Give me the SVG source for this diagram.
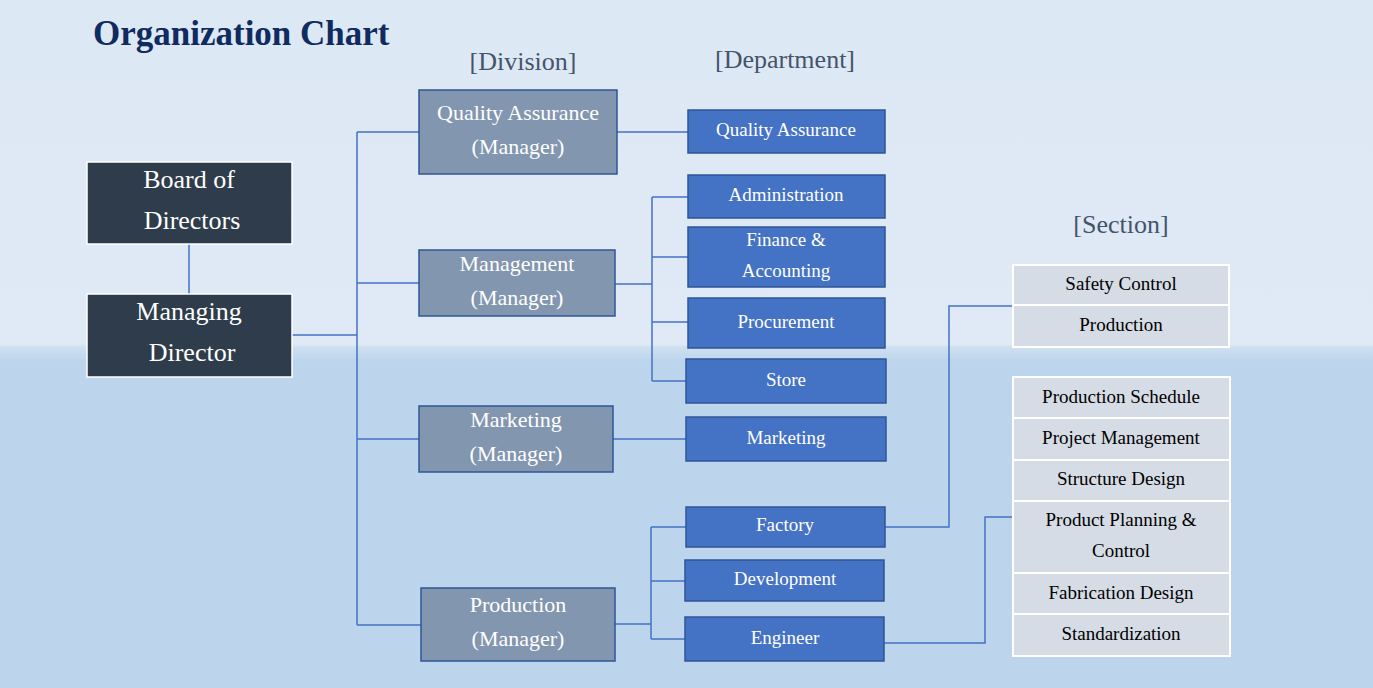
<svg xmlns="http://www.w3.org/2000/svg" width="1373" height="688" viewBox="0 0 1373 688">
<defs>
<linearGradient id="bg" x1="0" y1="0" x2="0" y2="1">
<stop offset="0" stop-color="#dde8f5"/><stop offset="0.5" stop-color="#e0eaf6"/><stop offset="0.505" stop-color="#cfdff0"/><stop offset="0.525" stop-color="#bcd5ed"/><stop offset="1" stop-color="#bcd5ed"/>
</linearGradient>
<style>
text{font-family:"Liberation Serif","Times New Roman",serif;text-anchor:middle}
.top rect{fill:#2e3c4b;stroke:#fff;stroke-width:1.5}
.top text{fill:#fff;font-size:26px}
.div rect{fill:#8396b0;stroke:#2f5597;stroke-width:1.5}
.div text{fill:#fff;font-size:22px}
.dep rect{fill:#4472c4;stroke:#2f5597;stroke-width:1.5}
.dep text{fill:#fff;font-size:19px}
.sec rect{fill:#d6dce5;stroke:#fff;stroke-width:2}
.sec text{fill:#000;font-size:19px}
.hd{fill:#44546a;font-size:26px}
#connectors path{fill:none;stroke:#4472c4;stroke-width:1.5}
</style>
</defs>
<rect width="1373" height="688" fill="url(#bg)"/>
<text x="93" y="45" style="text-anchor:start;font-weight:bold;font-size:35px;fill:#0f2b60">Organization Chart</text>
<text class="hd" x="523" y="70">[Division]</text>
<text class="hd" x="785" y="68">[Department]</text>
<text class="hd" x="1121" y="233">[Section]</text>
<g id="connectors">
<path d="M189 244V294"/>
<path d="M292 335H357M357 132V625M357 132H419M357 283H419M357 439H419M357 625H421"/>
<path d="M617 132H688"/>
<path d="M615 284H652M652 197V381M652 197H688M652 257H688M652 322H688M652 381H686"/>
<path d="M613 439H686"/>
<path d="M615 624H651M651 527V639M651 527H686M651 581H685M651 639H685"/>
<path d="M885 527H949V306H1013"/>
<path d="M884 643H985V517H1013"/>
</g>
<g id="board" class="top"><rect x="87" y="162" width="205" height="82"/><text x="189" y="188">Board of</text><text x="192" y="229">Directors</text></g>
<g id="md" class="top"><rect x="87" y="294" width="205" height="83"/><text x="189" y="320">Managing</text><text x="192" y="361">Director</text></g>
<g id="div-qa" class="div"><rect x="419" y="90" width="198" height="84"/><text x="518" y="120">Quality  Assurance</text><text x="518" y="154">(Manager)</text></g>
<g id="div-mgmt" class="div"><rect x="419" y="250" width="196" height="66"/><text x="517" y="271">Management</text><text x="517" y="305">(Manager)</text></g>
<g id="div-mkt" class="div"><rect x="419" y="406" width="194" height="66"/><text x="516" y="427">Marketing</text><text x="516" y="461">(Manager)</text></g>
<g id="div-prod" class="div"><rect x="421" y="588" width="194" height="73"/><text x="518" y="612">Production</text><text x="518" y="646">(Manager)</text></g>
<g id="d-qa" class="dep"><rect x="688" y="110" width="197" height="43"/><text x="786" y="136">Quality Assurance</text></g>
<g id="d-admin" class="dep"><rect x="688" y="175" width="197" height="43"/><text x="786" y="201">Administration</text></g>
<g id="d-fin" class="dep"><rect x="688" y="227" width="197" height="60"/><text x="786" y="246">Finance &amp;</text><text x="786" y="277">Accounting</text></g>
<g id="d-proc" class="dep"><rect x="688" y="298" width="197" height="50"/><text x="786" y="328">Procurement</text></g>
<g id="d-store" class="dep"><rect x="686" y="359" width="200" height="44"/><text x="786" y="386">Store</text></g>
<g id="d-mkt" class="dep"><rect x="686" y="417" width="200" height="44"/><text x="786" y="444">Marketing</text></g>
<g id="d-fac" class="dep"><rect x="686" y="507" width="199" height="40"/><text x="785" y="531">Factory</text></g>
<g id="d-dev" class="dep"><rect x="685" y="560" width="199" height="41"/><text x="785" y="585">Development</text></g>
<g id="d-eng" class="dep"><rect x="685" y="617" width="199" height="44"/><text x="785" y="644">Engineer</text></g>
<g id="s-safety" class="sec"><rect x="1013" y="265" width="216" height="40"/><text x="1121" y="290">Safety Control</text></g>
<g id="s-prod" class="sec"><rect x="1013" y="305" width="216" height="42"/><text x="1121" y="331">Production</text></g>
<g id="s-sched" class="sec"><rect x="1013" y="377" width="217" height="41"/><text x="1121" y="403">Production Schedule</text></g>
<g id="s-pm" class="sec"><rect x="1013" y="418" width="217" height="42"/><text x="1121" y="444">Project Management</text></g>
<g id="s-struct" class="sec"><rect x="1013" y="460" width="217" height="41"/><text x="1121" y="485">Structure Design</text></g>
<g id="s-ppc" class="sec"><rect x="1013" y="501" width="217" height="72"/><text x="1121" y="526">Product Planning &amp;</text><text x="1121" y="557">Control</text></g>
<g id="s-fab" class="sec"><rect x="1013" y="573" width="217" height="41"/><text x="1121" y="599">Fabrication Design</text></g>
<g id="s-std" class="sec"><rect x="1013" y="614" width="217" height="42"/><text x="1121" y="640">Standardization</text></g>
</svg>
